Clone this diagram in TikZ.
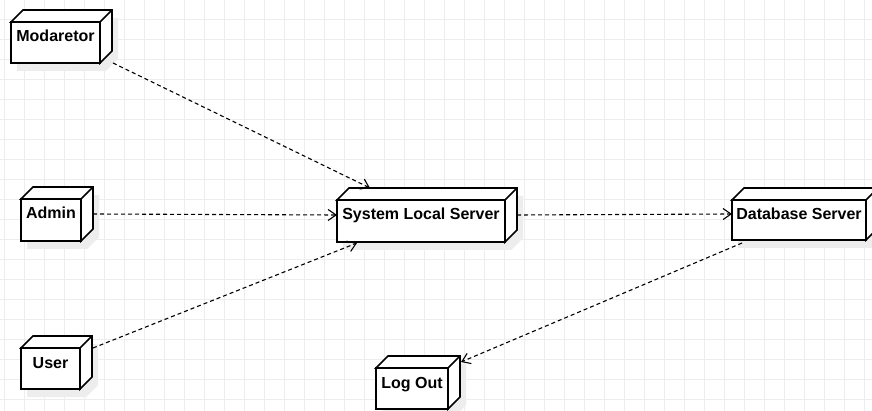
\documentclass[tikz,border=0pt]{standalone}
\usepackage{fontspec}
\setmainfont{Liberation Sans}
\usetikzlibrary{arrows.meta,calc}
\pgfdeclarelayer{bg}
\pgfsetlayers{bg,main}
\tikzset{
  cubefront/.style={draw, line width=1.7pt, fill=white, inner sep=0pt, outer sep=0pt,
    font=\fontsize{16}{19}\selectfont\bfseries, text height=20pt, text depth=#1, anchor=north west},
  cubeline/.style={draw, line width=1.7pt, fill=white, line join=miter},
  shadowfill/.style={fill=black!7},
  gridline/.style={black!7, line width=1pt},
  dep/.style={line width=1.1pt, dash pattern=on 4pt off 3pt,
    -{Straight Barb[length=8pt,width=11pt,line width=1.1pt]}},
}
\newcommand\cubeside[1]{%
  \begin{pgfonlayer}{bg}
    \fill[shadowfill] ($(#1.north west)+(6,8)$) -- ++(12,-12) -- ($(#1.north east)+(18,-4)$)
      -- ($(#1.south east)+(18,-4)$) -- ($(#1.south east)+(6,8)$) -- ($(#1.south west)+(6,8)$) -- cycle;
  \end{pgfonlayer}
  \draw[cubeline] (#1.north west) -- ++(12,-12) -- ($(#1.north east)+(12,-12)$)
    -- ($(#1.south east)+(12,-12)$) -- (#1.south east) -- (#1.north east) -- cycle;
  \draw[cubeline] (#1.north east) -- ++(12,-12);
}
\begin{document}
\begin{tikzpicture}[x=1pt,y=-1pt]
\useasboundingbox (0,0) rectangle (872,411);
\begin{pgfonlayer}{bg}
  \fill[white] (0,0) rectangle (872,411);
  \foreach \x in {4,24,...,864} \draw[gridline] (\x,0) -- (\x,411);
  \foreach \y in {19.5,39.5,...,399.5} \draw[gridline] (0,\y) -- (872,\y);
\end{pgfonlayer}

\node[cubefront={21pt}, minimum width=89pt] (mod) at (11,22) {Modaretor};
\cubeside{mod}
\node[cubefront={22pt}, minimum width=60pt] (admin) at (21,199) {Admin};
\cubeside{admin}
\node[cubefront={21pt}, minimum width=59pt] (user) at (21,348) {User};
\cubeside{user}
\node[cubefront={22pt}, minimum width=168pt] (sys) at (337,200) {System Local Server};
\cubeside{sys}
\node[cubefront={20pt}, minimum width=134pt] (db) at (732,200) {Database Server};
\cubeside{db}
\node[cubefront={21pt}, minimum width=72pt] (logout) at (376,368) {Log Out};
\cubeside{logout}

\draw[dep] ($(mod.south east)+(13,0)$) -- ($(sys.north)+(-51,-12)$);
\draw[dep] ($(admin.east)+(12,-6)$) -- ($(sys.west)+(0,-6)$);
\draw[dep] ($(sys.east)+(12,-6)$) -- ($(db.west)+(0,-6)$);
\draw[dep] ($(user.north east)+(13,0)$) -- ($(sys.south west)+(20,1)$);
\draw[dep] ($(db.south west)+(10,3)$) -- ($(logout.north east)+(13,-6)$);
\end{tikzpicture}
\end{document}
